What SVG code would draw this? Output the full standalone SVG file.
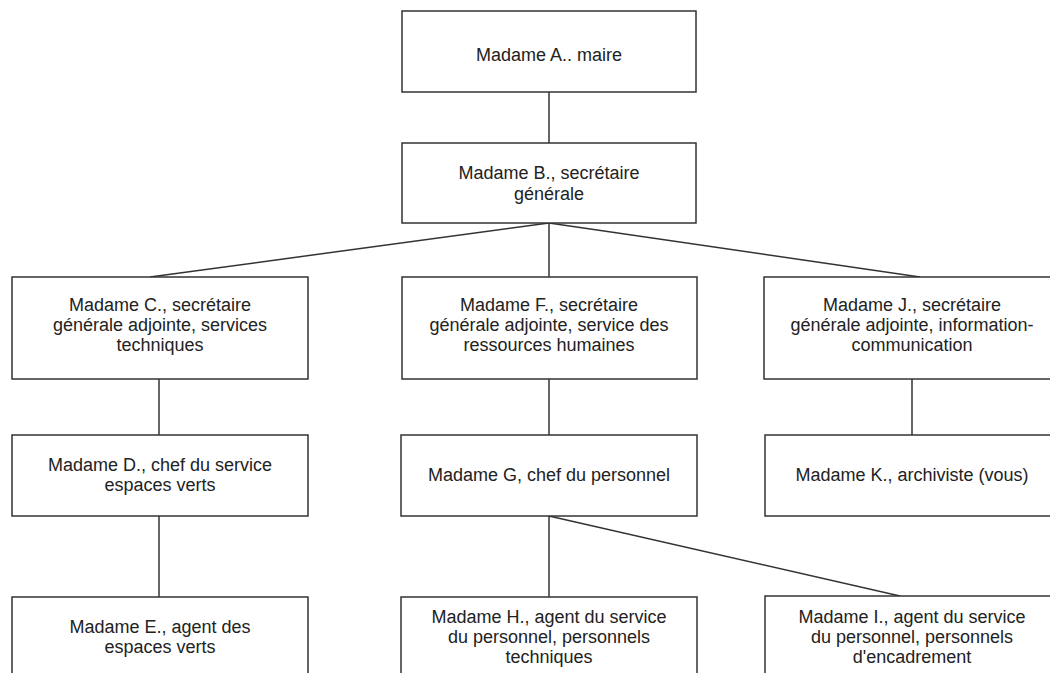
<svg xmlns="http://www.w3.org/2000/svg" width="1050" height="673" viewBox="0 0 1050 673">
<style>
.box{fill:#fff;stroke:#333;stroke-width:1.5}
.t{font-family:"Liberation Sans",Arial,sans-serif;font-size:18px;fill:#222;text-anchor:middle}
.c{stroke:#333;stroke-width:1.5;fill:none}
</style>
<rect width="1050" height="673" fill="#fff"/>
<g id="connectors">
<line class="c" x1="549" y1="92" x2="549" y2="143"/>
<line class="c" x1="549" y1="223" x2="150" y2="277"/>
<line class="c" x1="549" y1="223" x2="549" y2="277"/>
<line class="c" x1="549" y1="223" x2="920" y2="277"/>
<line class="c" x1="159" y1="379" x2="159" y2="435"/>
<line class="c" x1="159" y1="516" x2="159" y2="597"/>
<line class="c" x1="549" y1="379" x2="549" y2="435"/>
<line class="c" x1="912" y1="379" x2="912" y2="435"/>
<line class="c" x1="549" y1="516" x2="549" y2="597"/>
<line class="c" x1="549" y1="516" x2="900" y2="596"/>
</g>
<g id="nodeA"><rect class="box" x="402" y="11" width="294" height="81"/><text class="t" x="549" y="61">Madame A.. maire</text></g>
<g id="nodeB"><rect class="box" x="402" y="143" width="294" height="80"/><text class="t" x="549" y="179">Madame B., secrétaire</text><text class="t" x="549" y="200">générale</text></g>
<g id="nodeC"><rect class="box" x="12" y="277" width="296" height="102"/><text class="t" x="160" y="311">Madame C., secrétaire</text><text class="t" x="160" y="331">générale adjointe, services</text><text class="t" x="160" y="351">techniques</text></g>
<g id="nodeF"><rect class="box" x="402" y="277" width="295" height="102"/><text class="t" x="549" y="311">Madame F., secrétaire</text><text class="t" x="549" y="331">générale adjointe, service des</text><text class="t" x="549" y="351">ressources humaines</text></g>
<g id="nodeJ"><rect class="box" x="764" y="277" width="300" height="102"/><text class="t" x="912" y="311">Madame J., secrétaire</text><text class="t" x="912" y="331">générale adjointe, information-</text><text class="t" x="912" y="351">communication</text></g>
<g id="nodeD"><rect class="box" x="12" y="435" width="296" height="81"/><text class="t" x="160" y="471">Madame D., chef du service</text><text class="t" x="160" y="491">espaces verts</text></g>
<g id="nodeG"><rect class="box" x="401" y="435" width="296" height="81"/><text class="t" x="549" y="481">Madame G, chef du personnel</text></g>
<g id="nodeK"><rect class="box" x="765" y="435" width="300" height="81"/><text class="t" x="912" y="481">Madame K., archiviste (vous)</text></g>
<g id="nodeE"><rect class="box" x="12" y="597" width="296" height="100"/><text class="t" x="160" y="633">Madame E., agent des</text><text class="t" x="160" y="653">espaces verts</text></g>
<g id="nodeH"><rect class="box" x="401" y="597" width="296" height="100"/><text class="t" x="549" y="623">Madame H., agent du service</text><text class="t" x="549" y="643">du personnel, personnels</text><text class="t" x="549" y="663">techniques</text></g>
<g id="nodeI"><rect class="box" x="765" y="596" width="300" height="100"/><text class="t" x="912" y="623">Madame I., agent du service</text><text class="t" x="912" y="643">du personnel, personnels</text><text class="t" x="912" y="663">d'encadrement</text></g>
</svg>
